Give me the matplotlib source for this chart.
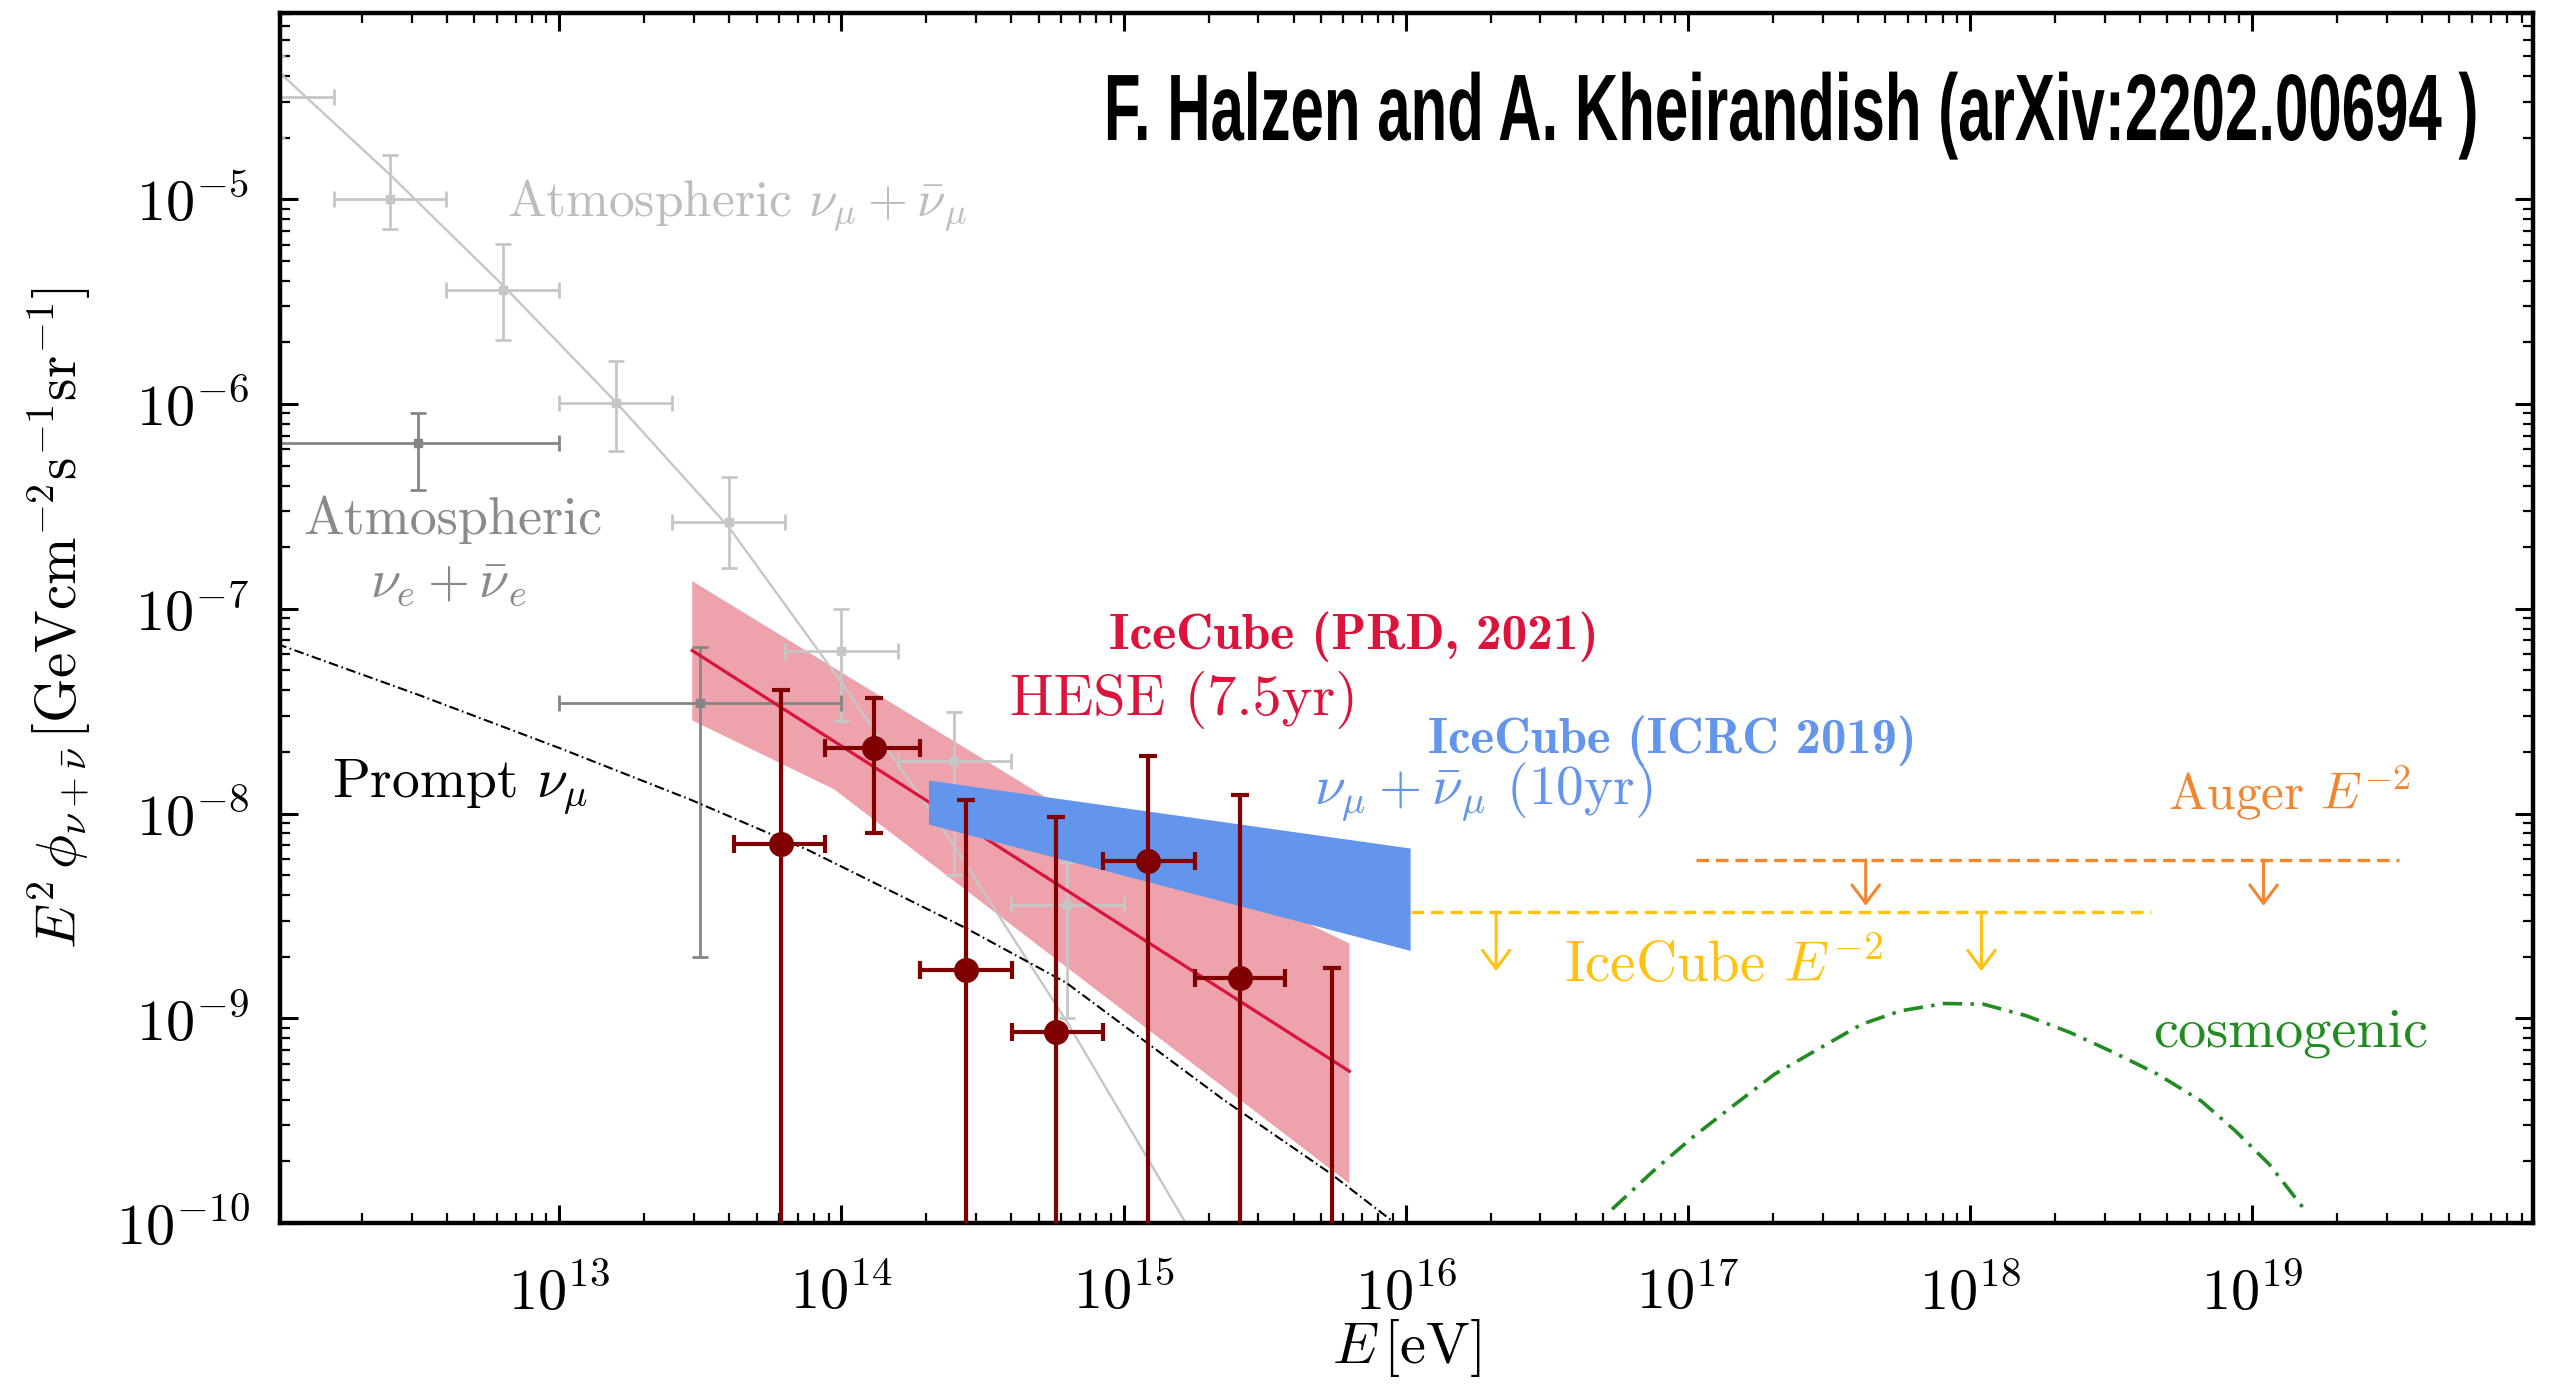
import numpy as np
import matplotlib
matplotlib.use('Agg')
import matplotlib.pyplot as plt
from matplotlib import patheffects
from matplotlib.transforms import Affine2D

plt.rcParams['font.family'] = 'serif'
plt.rcParams['font.serif'] = ['cmr10']
plt.rcParams['mathtext.fontset'] = 'cm'
plt.rcParams['axes.formatter.use_mathtext'] = True
plt.rcParams['lines.scale_dashes'] = False

# all values below are log10(E/eV) and log10(E^2 phi / GeV cm^-2 s^-1 sr^-1)

# atmospheric nu_mu + nu_mu-bar unfolding (light gray points)
atm_mu_logE = [12.0, 12.4, 12.8, 13.2, 13.6, 14.0, 14.4, 14.8]
atm_mu_logF = [-4.50, -5.00, -5.445, -5.997, -6.574, -7.204, -7.742, -8.448]
atm_mu_logF_hi = [-4.30, -4.785, -5.22, -5.79, -6.354, -7.00, -7.505, -8.237]
atm_mu_logF_lo = [-4.70, -5.147, -5.689, -6.227, -6.80, -7.549, -8.30, -9.00]
atm_mu_halfbin = 0.2

# conventional atmospheric nu_mu model curve
atm_model_logE = [12.0, 12.4, 12.8, 13.2, 13.6, 14.0, 14.4, 14.8, 15.22, 15.32]
atm_model_logF = [-4.37, -4.88, -5.42, -5.99, -6.60, -7.36, -8.16, -9.02, -10.0, -10.25]

# atmospheric nu_e + nu_e-bar (dark gray points)
atm_e_logE = [12.5, 13.5]
atm_e_logF = [-6.19, -7.462]
atm_e_logF_hi = [-6.046, -7.185]
atm_e_logF_lo = [-6.42, -8.70]
atm_e_halfbin = 0.5

# prompt nu_mu model
prompt_logE = [12.0, 12.5, 13.0, 13.466, 13.884, 14.441, 14.796, 15.353, 15.733, 15.98, 16.05]
prompt_logF = [-7.172, -7.42, -7.68, -7.933, -8.18, -8.56, -8.826, -9.397, -9.758, -10.02, -10.1]

# IceCube HESE 7.5 yr unfolded flux
hese_logE = [13.787, 14.115, 14.44, 14.762, 15.085, 15.413]
hese_logF = [-8.151, -7.678, -8.764, -9.065, -8.23, -8.803]
hese_logF_hi = [-7.398, -7.437, -7.936, -8.016, -7.721, -7.91]
hese_logF_lo = [-11.0, -8.097, -11.0, -11.0, -11.0, -11.0]
hese_bin_lo = [13.619, 13.943, 14.279, 14.606, 14.926, 15.254]
hese_bin_hi = [13.943, 14.279, 14.606, 14.926, 15.254, 15.573]
hese_ul_logE = [15.738]
hese_ul_logF = [-8.754]

# HESE single power-law fit and its band
hese_fit_logE = [13.471, 15.80]
hese_fit_logF = [-7.204, -9.259]
hese_band_upper_logE = [13.471, 14.724, 15.80]
hese_band_upper_logF = [-6.865, -7.921, -8.635]
hese_band_lower_logE = [13.471, 13.974, 15.80]
hese_band_lower_logF = [-7.545, -7.882, -9.807]

# IceCube through-going nu_mu 10 yr band
numu_band_logE = [14.31, 16.017]
numu_band_upper_logF = [-7.839, -8.171]
numu_band_lower_logF = [-8.054, -8.671]

# E^-2 upper limits
icecube_ul_logE = [16.02, 18.64]
icecube_ul_logF = -8.48
icecube_ul_arrows = [16.32, 18.04]
auger_ul_logE = [17.03, 19.52]
auger_ul_logF = -8.226
auger_ul_arrows = [17.63, 19.04]

# cosmogenic model
cosmo_logE = [16.731, 16.877, 17.015, 17.152, 17.307, 17.461, 17.616, 17.753, 17.908,
              18.046, 18.200, 18.355, 18.51, 18.664, 18.819, 18.94, 19.06, 19.18]
cosmo_logF = [-9.933, -9.746, -9.583, -9.436, -9.273, -9.151, -9.029, -8.964, -8.928,
              -8.931, -8.988, -9.07, -9.168, -9.273, -9.404, -9.55, -9.713, -9.925]

# labelled decades on each axis
x_decades = [13, 14, 15, 16, 17, 18, 19]
y_decades = [-10, -9, -8, -7, -6, -5]

TITLE = 'F. Halzen and A. Kheirandish (arXiv:2202.00694 )'


def p10(a):
    return 10.0 ** np.asarray(a, dtype=float)


class Squeeze(patheffects.AbstractPathEffect):
    """Draw the glyph outlines scaled about a fixed point (condensed type)."""

    def __init__(self, sx, sy, x0, y0):
        super().__init__()
        self._t = Affine2D().translate(-x0, -y0).scale(sx, sy).translate(x0, y0)

    def draw_path(self, renderer, gc, tpath, affine, rgbFace=None):
        renderer.draw_path(gc, tpath, affine + self._t, rgbFace)


C_LGRAY = '#c6c6c6'
C_DGRAY = '#858585'
C_HESE = '#800000'
C_CRIMSON = '#dc143c'
C_PINK = '#eea3ac'
C_BLUE = '#6495ed'
C_GOLD = '#ffc20e'
C_ORANGE = '#f28530'
C_GREEN = '#228b22'

fig = plt.figure(figsize=(25.49, 13.88), dpi=100)
ax = fig.add_axes([0.10985, 0.11888, 0.88388, 0.87176])
ax.set_xscale('log')
ax.set_yscale('log')

# HESE band and fit
band_x = hese_band_upper_logE + hese_band_lower_logE[::-1]
band_y = hese_band_upper_logF + hese_band_lower_logF[::-1]
ax.fill(p10(band_x), p10(band_y), color=C_PINK, lw=0, zorder=1)
ax.plot(p10(hese_fit_logE), p10(hese_fit_logF), color=C_CRIMSON, lw=2.3, zorder=2.5)

# atmospheric
ax.plot(p10(atm_model_logE), p10(atm_model_logF), color=C_LGRAY, lw=1.7, zorder=2)

E = p10(atm_mu_logE)
F = p10(atm_mu_logF)
ax.errorbar(E, F,
            xerr=[E - p10(np.array(atm_mu_logE) - atm_mu_halfbin), p10(np.array(atm_mu_logE) + atm_mu_halfbin) - E],
            yerr=[F - p10(atm_mu_logF_lo), p10(atm_mu_logF_hi) - F],
            fmt='s', ms=6, color=C_LGRAY, elinewidth=2.0, capsize=5.5, capthick=2.0, zorder=2)

E = p10(atm_e_logE)
F = p10(atm_e_logF)
ax.errorbar(E, F,
            xerr=[E - p10(np.array(atm_e_logE) - atm_e_halfbin), p10(np.array(atm_e_logE) + atm_e_halfbin) - E],
            yerr=[F - p10(atm_e_logF_lo), p10(atm_e_logF_hi) - F],
            fmt='s', ms=6, color=C_DGRAY, elinewidth=2.0, capsize=5.5, capthick=2.0, zorder=2)

# through-going muons
ax.fill(p10(numu_band_logE + numu_band_logE[::-1]),
        p10(numu_band_upper_logF + numu_band_lower_logF[::-1]),
        color=C_BLUE, lw=0, zorder=3)

# prompt
ax.plot(p10(prompt_logE), p10(prompt_logF), color='black', lw=1.5,
        dashes=(7, 2.5, 1.2, 2.5), zorder=4)

# HESE points
E = p10(hese_logE)
F = p10(hese_logF)
ax.errorbar(E, F,
            xerr=[E - p10(hese_bin_lo), p10(hese_bin_hi) - E],
            yerr=[F - p10(hese_logF_lo), p10(hese_logF_hi) - F],
            fmt='o', ms=17, color=C_HESE, elinewidth=3.0, capsize=6.5, capthick=3.0, zorder=5)
F = p10(hese_ul_logF)
ax.errorbar(p10(hese_ul_logE), F, yerr=[F - 1e-11, [0.0]],
            fmt='none', ecolor=C_HESE, elinewidth=3.0, capsize=6.5, capthick=3.0, zorder=5)


# upper limits
def upper_limit(logE_range, logF, arrows, drop, color):
    ax.plot(p10(logE_range), [10 ** logF] * 2, color=color, lw=2.4, dashes=(9, 5), zorder=3)
    for xa in arrows:
        ax.annotate('', xy=(10 ** xa, 10 ** (logF - drop)), xytext=(10 ** xa, 10 ** logF),
                    arrowprops=dict(arrowstyle='->,head_length=0.6,head_width=0.45',
                                    color=color, lw=2.2, shrinkA=0, shrinkB=0,
                                    mutation_scale=22))


upper_limit(icecube_ul_logE, icecube_ul_logF, icecube_ul_arrows, 0.29, C_GOLD)
upper_limit(auger_ul_logE, auger_ul_logF, auger_ul_arrows, 0.225, C_ORANGE)

# cosmogenic
ax.plot(p10(cosmo_logE), p10(cosmo_logF), color=C_GREEN, lw=2.6,
        dashes=(14, 6, 2.5, 6), zorder=3)


# labels inside the plot
def label(logx, logy, s, color, size, **kw):
    ax.text(10 ** logx, 10 ** logy, s, color=color, fontsize=size,
            ha='left', va='baseline', **kw)


label(12.815, -5.083, r'Atmospheric $\nu_\mu + \bar{\nu}_\mu$', '#bdbdbd', 37)
label(12.092, -6.637, 'Atmospheric', '#8a8a8a', 39)
label(12.329, -6.945, r'$\nu_e + \bar{\nu}_e$', '#8a8a8a', 39)
label(12.194, -7.923, r'Prompt $\nu_\mu$', 'black', 40)
label(14.949, -7.195, 'IceCube (PRD, 2021)', C_CRIMSON, 37, family='cmb10')
label(14.598, -7.517, 'HESE (7.5yr)', C_CRIMSON, 42)
label(16.077, -7.705, 'IceCube (ICRC 2019)', C_BLUE, 36.5, family='cmb10')
label(15.673, -7.955, r'$\nu_\mu + \bar{\nu}_\mu$ (10yr)', C_BLUE, 40)
label(18.70, -7.981, r'Auger $E^{-2}$', C_ORANGE, 37)
label(16.562, -8.822, r'IceCube $E^{-2}$', C_GOLD, 41)
label(18.65, -9.14, 'cosmogenic', C_GREEN, 40.5)

ax.set_xlim(10 ** 12.01, 10 ** 19.995)
ax.set_ylim(1e-10, 10 ** -4.09)

ax.tick_params(which='both', direction='in', top=True, right=True)
ax.tick_params(which='major', length=13, width=2.2, labelsize=42, pad=22)
ax.tick_params(which='minor', length=7, width=1.6)
ax.tick_params(axis='x', which='major', pad=30)
ax.xaxis.set_major_locator(matplotlib.ticker.FixedLocator(p10(x_decades)))
ax.xaxis.set_minor_locator(matplotlib.ticker.LogLocator(base=10, subs=np.arange(2, 10), numticks=20))
ax.yaxis.set_major_locator(matplotlib.ticker.FixedLocator(p10(y_decades)))
ax.yaxis.set_minor_locator(matplotlib.ticker.LogLocator(base=10, subs=np.arange(2, 10), numticks=20))
ax.xaxis.set_major_formatter(matplotlib.ticker.LogFormatterSciNotation())
ax.yaxis.set_major_formatter(matplotlib.ticker.LogFormatterSciNotation())
ax.xaxis.set_minor_formatter(matplotlib.ticker.NullFormatter())
ax.yaxis.set_minor_formatter(matplotlib.ticker.NullFormatter())
for sp in ax.spines.values():
    sp.set_linewidth(3.2)

ax.set_xlabel(r'$E\,[\mathrm{eV}]$', fontsize=42)
ax.xaxis.set_label_coords(0.5, -0.078)
ax.set_ylabel(r'$E^2\,\phi_{\nu+\bar{\nu}}\,[\mathrm{GeV cm^{-2} s^{-1} sr^{-1}}]$', fontsize=41)
ax.yaxis.set_label_coords(-0.083, 0.5)

# condensed heavy caption in the top right corner
tx, ty = 0.9725, 0.8991
title = fig.text(tx, ty, TITLE, family=['Liberation Sans', 'DejaVu Sans'], weight='bold',
                 fontsize=68, ha='right', va='baseline', color='black')
fig.canvas.draw()
w = title.get_window_extent().width
x0, y0 = fig.transFigure.transform((tx, ty))
title.set_path_effects([Squeeze(1375.0 / w, 1.0, x0, y0)])

fig.savefig('out.png', dpi=100)
